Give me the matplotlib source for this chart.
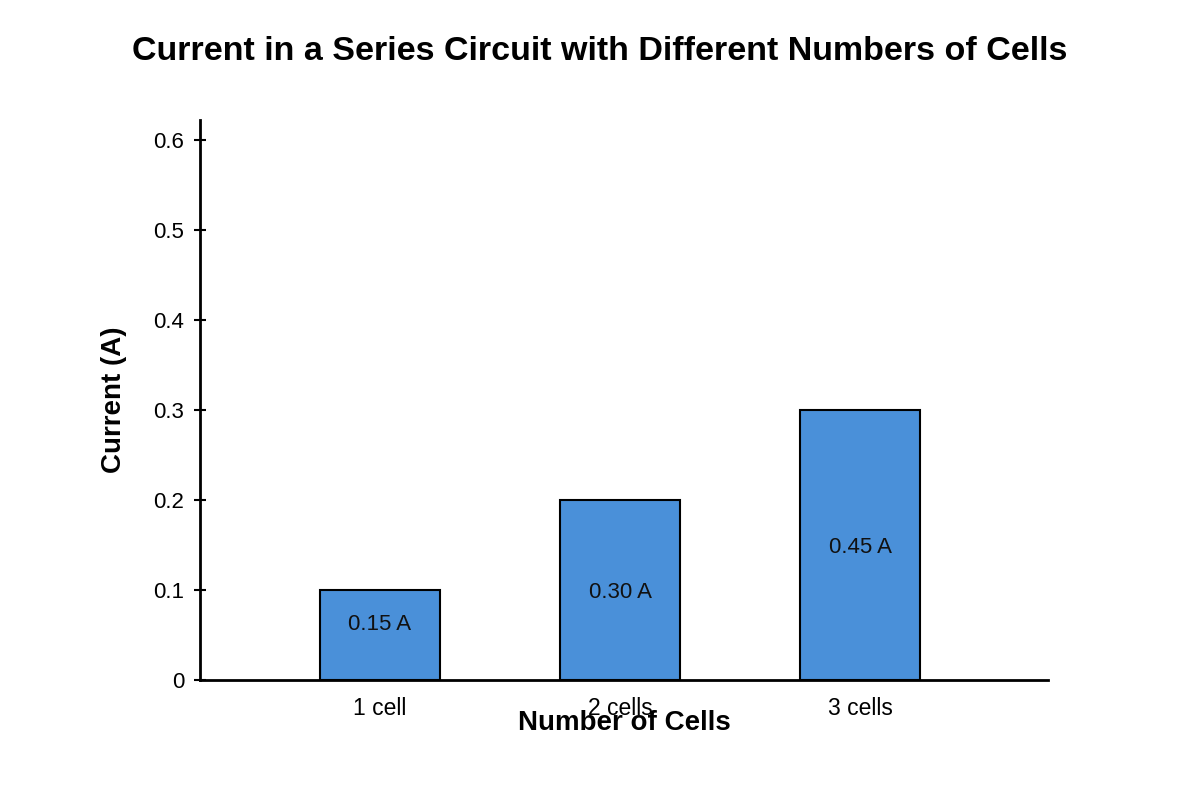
import matplotlib
matplotlib.use("Agg")
import matplotlib.pyplot as plt
import numpy as np

categories = ["1 cell", "2 cells", "3 cells"]
bar_heights = [0.1, 0.2, 0.3]
value_labels = ["0.15 A", "0.30 A", "0.45 A"]
y_ticks = [0, 0.1, 0.2, 0.3, 0.4, 0.5, 0.6]
y_tick_labels = ["0", "0.1", "0.2", "0.3", "0.4", "0.5", "0.6"]

plt.rcParams['font.family'] = ['Liberation Sans', 'DejaVu Sans']

fig = plt.figure(figsize=(12, 8), dpi=100)
ax = fig.add_axes([200/1200, 1-680/800, 848/1200, 560/800])

x = np.arange(len(categories))
bars = ax.bar(x, bar_heights, width=0.5, color="#4a90d9", edgecolor="black", linewidth=1.5, zorder=2)

for xi, h, lab in zip(x, bar_heights, value_labels):
    ax.text(xi, max(h / 2, 0.064), lab, ha="center", va="center_baseline", fontsize=16, color="#111111", zorder=3)

ax.set_xlim(-0.75, 2.783)
ax.set_ylim(0, 0.622)
ax.set_xticks(x)
ax.set_xticklabels(categories, fontsize=16.5)
ax.set_yticks(y_ticks)
ax.set_yticklabels(y_tick_labels, fontsize=16)
ax.tick_params(axis="x", length=0, pad=12)
ax.tick_params(axis="y", direction="inout", length=9, width=1.5, pad=7)

for s in ["top", "right"]:
    ax.spines[s].set_visible(False)
ax.spines["left"].set_linewidth(2)
ax.spines["bottom"].set_linewidth(2)

ax.set_xlabel("Number of Cells", fontsize=20, fontweight="bold", va="center_baseline")
ax.xaxis.set_label_coords(0.5, -0.0714)
ax.set_ylabel("Current (A)", fontsize=20, fontweight="bold", va="center")
ax.yaxis.set_label_coords(-0.101, 0.5)

fig.text(0.5, 1-48/800, "Current in a Series Circuit with Different Numbers of Cells",
         ha="center", va="center_baseline", fontsize=24.5, fontweight="bold")

fig.savefig("out.png", dpi=100)
